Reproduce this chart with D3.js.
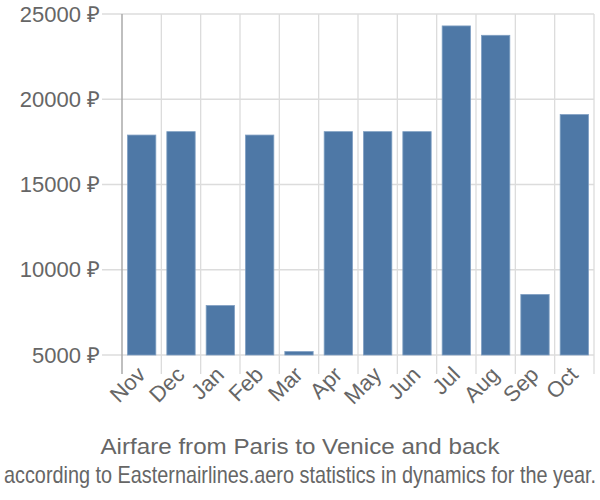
<!DOCTYPE html>
<html><head><meta charset="utf-8">
<script src="https://cdn.jsdelivr.net/npm/d3@7"></script>
<style>body{margin:0;background:#fff}</style>
</head><body>
<script>
const months = ["Nov","Dec","Jan","Feb","Mar","Apr","May","Jun","Jul","Aug","Sep","Oct"];
const prices = [17900,18100,7900,17900,5200,18100,18100,18100,24300,23750,8550,19100];
const yTicks = [5000,10000,15000,20000,25000];
const title1 = "Airfare from Paris to Venice and back";
const title2 = "according to Easternairlines.aero statistics in dynamics for the year.";

const W=600,H=500;
const svg=d3.select("body").append("svg").attr("width",W).attr("height",H);
const x=d3.scaleBand().domain(months).range([122,594]).paddingInner(0.28).paddingOuter(0.14);
const y=d3.scaleLinear().domain([5000,25000]).range([355,14]);
const font="Liberation Sans, Arial, sans-serif";

// horizontal grid
svg.append("g").selectAll("line").data(yTicks).join("line")
 .attr("x1",102).attr("x2",594).attr("y1",d=>y(d)).attr("y2",d=>y(d))
 .attr("stroke","#dcdcdc").attr("stroke-width",1.3);
// vertical grid
const xs=d3.range(months.length+1).map(i=>122+i*x.step());
svg.append("g").selectAll("line").data(xs.slice(1)).join("line")
 .attr("x1",d=>d).attr("x2",d=>d).attr("y1",14).attr("y2",374)
 .attr("stroke","#dcdcdc").attr("stroke-width",1.3);
svg.append("line").attr("x1",122).attr("x2",122).attr("y1",14).attr("y2",374)
 .attr("stroke","#aaa").attr("stroke-width",1.5);

// bars
svg.append("g").selectAll("rect").data(months).join("rect")
 .attr("x",d=>x(d)).attr("width",x.bandwidth())
 .attr("y",(d,i)=>y(prices[i])).attr("height",(d,i)=>y(5000)-y(prices[i]))
 .attr("fill","#4e78a6").attr("stroke","#7f9fc2").attr("stroke-width",0.8);

// y labels
svg.append("g").selectAll("text").data(yTicks).join("text")
 .attr("x",100).attr("y",d=>y(d)).attr("dy","0.35em").attr("text-anchor","end")
 .attr("font-family",font).attr("font-size",22).attr("fill","#666")
 .text(d=>d+" ₽");

// x labels
svg.append("g").selectAll("text").data(months).join("text")
 .attr("transform",d=>`translate(${x(d)+x.bandwidth()/2+5},${376}) rotate(-45)`)
 .attr("text-anchor","end").attr("font-family",font).attr("font-size",22).attr("fill","#666")
 .text(d=>d);

svg.append("text").attr("x",300).attr("y",454).attr("text-anchor","middle")
 .attr("font-family",font).attr("font-size",22).attr("fill","#666")
 .attr("textLength",399).attr("lengthAdjust","spacingAndGlyphs").text(title1);
svg.append("text").attr("x",300).attr("y",483).attr("text-anchor","middle")
 .attr("font-family",font).attr("font-size",24).attr("fill","#666")
 .attr("textLength",592).attr("lengthAdjust","spacingAndGlyphs").text(title2);
</script>
</body></html>
